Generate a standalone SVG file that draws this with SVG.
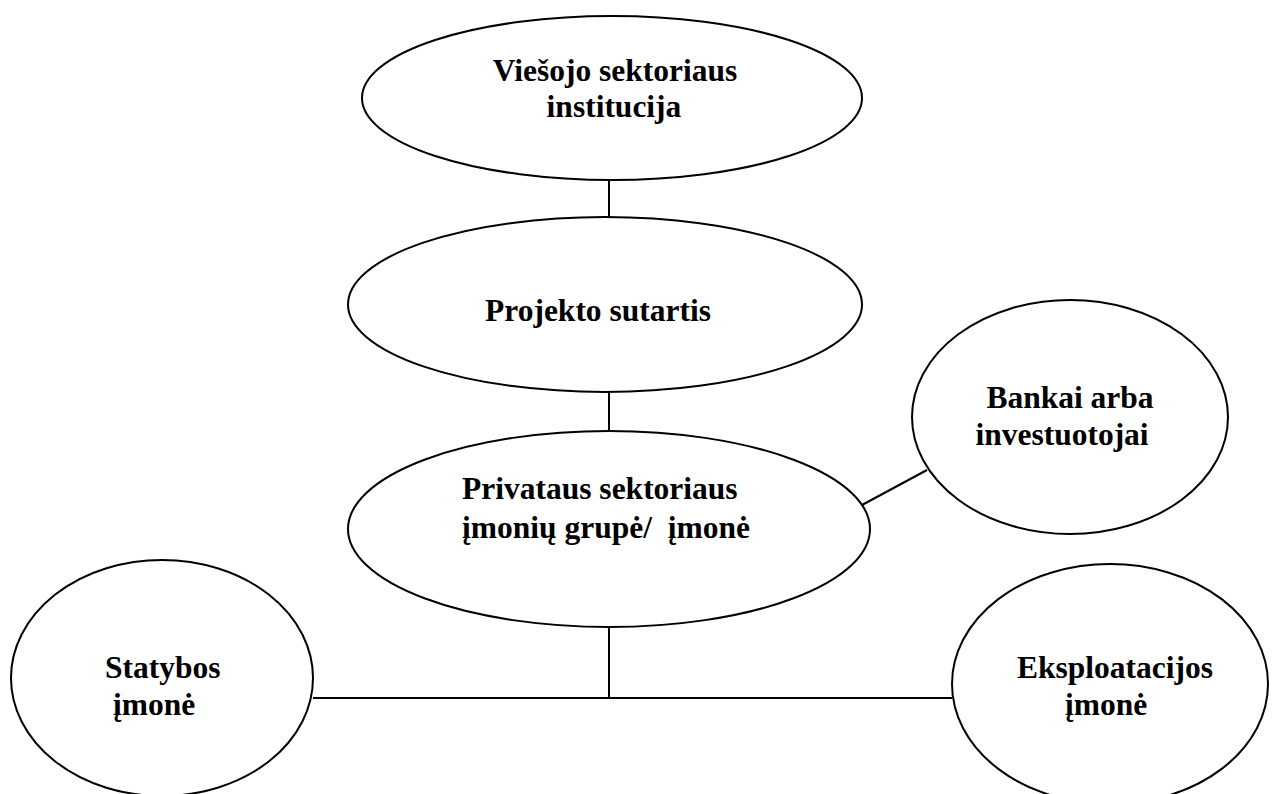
<svg xmlns="http://www.w3.org/2000/svg" width="1272" height="794" viewBox="0 0 1272 794">
<style>
.n{fill:#fff;stroke:#000;stroke-width:2}
.c{stroke:#000;stroke-width:2;fill:none}
text{font-family:"Liberation Serif","Times New Roman",serif;font-weight:bold;font-size:31.5px;fill:#000}
.m{text-anchor:middle}
</style>
<rect width="1272" height="794" fill="#fff"/>
<g id="connectors">
<line class="c" x1="609" y1="180" x2="609" y2="217"/>
<line class="c" x1="609" y1="392" x2="609" y2="430"/>
<line class="c" x1="862" y1="505" x2="927" y2="470"/>
<line class="c" x1="609" y1="627" x2="609" y2="698"/>
<line class="c" x1="313" y1="698" x2="952" y2="698"/>
</g>
<g id="viesojo">
<ellipse class="n" cx="612" cy="98" rx="250" ry="82"/>
<text class="m" x="615" y="81">Viešojo sektoriaus</text>
<text class="m" x="614" y="117">institucija</text>
</g>
<g id="projekto">
<ellipse class="n" cx="605" cy="304.5" rx="257" ry="87.5"/>
<text class="m" x="598" y="321">Projekto sutartis</text>
</g>
<g id="privataus">
<ellipse class="n" cx="609" cy="529" rx="261" ry="98"/>
<text x="462" y="499">Privataus sektoriaus</text>
<text x="462" y="538" xml:space="preserve">įmonių grupė/  įmonė</text>
</g>
<g id="bankai">
<ellipse class="n" cx="1070" cy="417" rx="158" ry="117"/>
<text class="m" x="1070" y="408">Bankai arba</text>
<text class="m" x="1062" y="445">investuotojai</text>
</g>
<g id="statybos">
<ellipse class="n" cx="162" cy="678" rx="151" ry="118"/>
<text x="105" y="678">Statybos</text>
<text x="113" y="715">įmonė</text>
</g>
<g id="eksploatacijos">
<ellipse class="n" cx="1110" cy="684" rx="158" ry="120"/>
<text x="1017" y="678">Eksploatacijos</text>
<text x="1065" y="715">įmonė</text>
</g>
</svg>
